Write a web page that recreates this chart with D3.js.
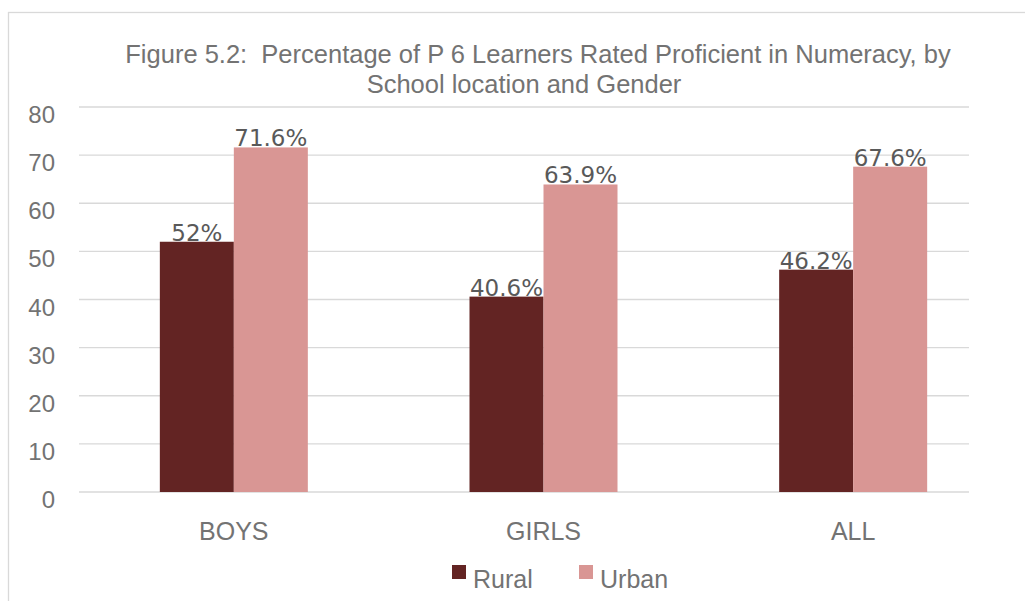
<!DOCTYPE html>
<html><head><meta charset="utf-8">
<script src="https://cdn.jsdelivr.net/npm/d3@7"></script>
<style>body{margin:0;background:#fff}svg{display:block;font-family:"Liberation Sans",Arial,sans-serif}</style>
</head><body><svg id="c" width="1025" height="601"></svg>
<script>
const categories = ["BOYS", "GIRLS", "ALL"];
const series = ["Rural", "Urban"];
const rural = [52, 40.6, 46.2];
const urban = [71.6, 63.9, 67.6];
const ruralLabels = ["52%", "40.6%", "46.2%"];
const urbanLabels = ["71.6%", "63.9%", "67.6%"];
const yTicks = [0, 10, 20, 30, 40, 50, 60, 70, 80];
const colors = ["#632423", "#D99694"];

const svg = d3.select("#c");
svg.append("rect").attr("x", 8.5).attr("y", 12.5).attr("width", 1030).attr("height", 600)
  .attr("fill", "none").attr("stroke", "#d9d9d9").attr("stroke-width", 1.3);

const y = d3.scaleLinear().domain([0, 80]).range([492, 107]);
const x = d3.scaleBand().domain(categories).range([79, 1008]).paddingInner(0).paddingOuter(0);
const inner = d3.scaleBand().domain(series).range([0, 148]);
const gridX1 = 79, gridX2 = 969;

svg.append("g").selectAll("line").data(yTicks).join("line")
  .attr("x1", gridX1).attr("x2", gridX2).attr("y1", d => y(d)).attr("y2", d => y(d))
  .attr("stroke", "#d9d9d9").attr("stroke-width", 1.3);

svg.append("g").selectAll("text").data(yTicks).join("text")
  .attr("x", 55).attr("y", d => y(d) + 16).attr("text-anchor", "end")
  .attr("font-size", 24).attr("fill", "#737373").text(d => d);

const vals = [rural, urban];
const labs = [ruralLabels, urbanLabels];
series.forEach((s, si) => {
  const g = svg.append("g");
  g.selectAll("rect").data(categories).join("rect")
    .attr("x", c => x(c) + x.bandwidth() / 2 - 74 + inner(s))
    .attr("width", inner.bandwidth())
    .attr("y", (c, i) => y(vals[si][i]))
    .attr("height", (c, i) => y(0) - y(vals[si][i]))
    .attr("fill", colors[si]);
  g.selectAll("text").data(categories).join("text")
    .attr("x", c => x(c) + x.bandwidth() / 2 - 74 + inner(s) + inner.bandwidth() / 2)
    .attr("y", (c, i) => y(vals[si][i]) - 1)
    .attr("text-anchor", "middle").attr("font-size", 23).attr("fill", "#595959")
    .attr("font-family", "'DejaVu Sans', Verdana, sans-serif")
    .text((c, i) => labs[si][i]);
});

svg.append("g").selectAll("text").data(categories).join("text")
  .attr("x", c => x(c) + x.bandwidth() / 2).attr("y", 540)
  .attr("text-anchor", "middle").attr("font-size", 25).attr("fill", "#737373").text(c => c);

svg.append("text").attr("x", 538).attr("y", 63).attr("text-anchor", "middle")
  .attr("font-size", 25.5).attr("fill", "#737373").attr("xml:space", "preserve")
  .style("white-space", "pre")
  .text("Figure 5.2:  Percentage of P 6 Learners Rated Proficient in Numeracy, by");
svg.append("text").attr("x", 524).attr("y", 93).attr("text-anchor", "middle")
  .attr("font-size", 25.5).attr("fill", "#737373").text("School location and Gender");

const legX = [452, 579];
series.forEach((s, i) => {
  svg.append("rect").attr("x", legX[i]).attr("y", 565).attr("width", 14).attr("height", 14).attr("fill", colors[i]);
  svg.append("text").attr("x", legX[i] + 21).attr("y", 588).attr("font-size", 25).attr("fill", "#737373").text(s);
});
</script></body></html>
